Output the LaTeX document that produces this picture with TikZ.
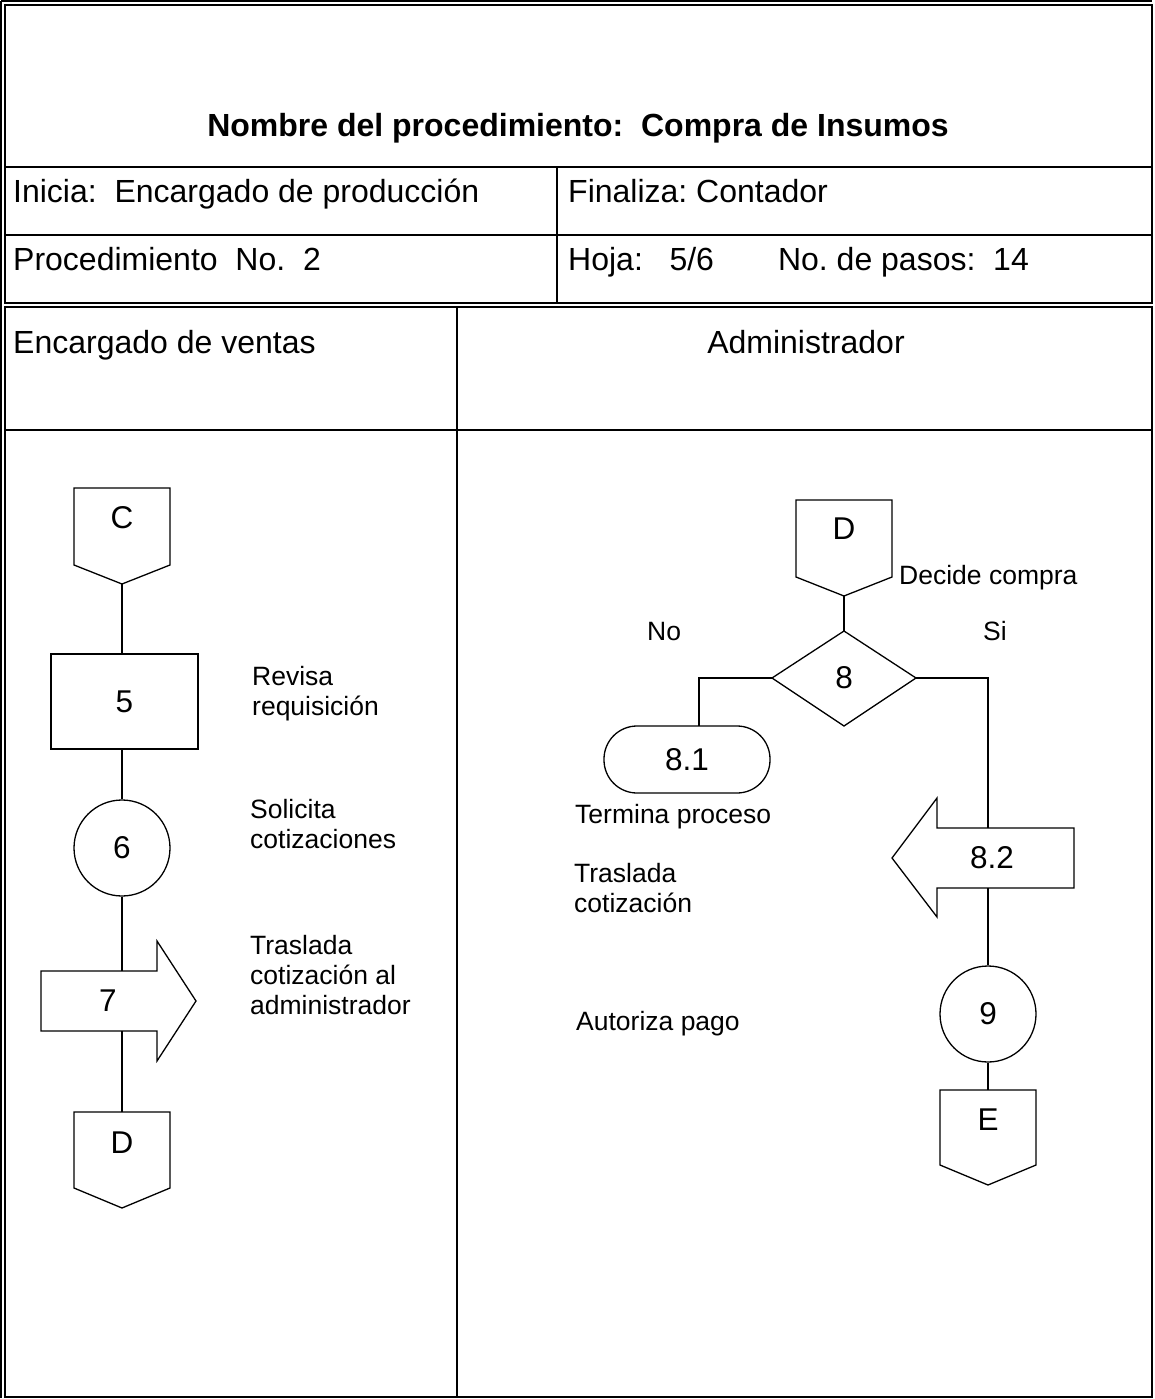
\documentclass[tikz,border=0pt]{standalone}
\usepackage{fontspec}
\setmainfont{Liberation Sans}
\begin{document}
\frenchspacing
\begin{tikzpicture}[x=1pt,y=-1pt,
  frame/.style={line width=1.8pt},
  flow/.style={line width=1.3pt},
  num/.style={font=\fontsize{31.5}{36}\selectfont, inner sep=0},
  hdr/.style={font=\fontsize{32}{36}\selectfont, inner sep=0, anchor=base west},
  ttl/.style={font=\fontsize{32}{36}\selectfont\bfseries, inner sep=0, anchor=base},
  lbl/.style={font=\fontsize{26.5}{30}\selectfont, inner sep=0, anchor=base west, align=left}]
\useasboundingbox (0,0) rectangle (1155,1399);
% table frame
\draw[frame] (5,5) rectangle (1152,303);
\draw[frame] (1,1) -- (1152,1);
\draw[frame] (1,1) -- (1,1398);
\draw[frame] (5,307) rectangle (1152,1397);
\draw[frame] (5,167) -- (1152,167);
\draw[frame] (5,235) -- (1152,235);
\draw[frame] (557,167) -- (557,303);
\draw[frame] (457,307) -- (457,1397);
\draw[frame] (5,430) -- (1152,430);
% header texts
\node[ttl] (title) at (578,137) {Nombre del procedimiento:\ \ Compra de Insumos};
\node[hdr] (inicia) at (13,203) {Inicia:\ \ Encargado de producción};
\node[hdr] (finaliza) at (568,203) {Finaliza: Contador};
\node[hdr] (proc) at (13,270) {Procedimiento\ \ No.\ \ 2};
\node[hdr] (hoja) at (568,270) {Hoja:\ \ \ 5/6\hspace{64pt}No. de pasos:\ \ 14};
\node[hdr] (lane1) at (13,353) {Encargado de ventas};
\node[hdr, anchor=base] (lane2) at (806,353) {Administrador};
% left lane
\draw[flow] (74,488) -- (170,488) -- (170,565) -- (122,584) -- (74,565) -- cycle;
\node[num] (C) at (122,518) {C};
\coordinate (Cb) at (122,584);
\node[flow, draw, num, minimum width=147pt, minimum height=95pt] (n5) at (124.5,701.5) {5};
\node[flow, draw, num, circle, minimum size=96pt] (n6) at (122,848) {6};
\draw[flow] (41,971) -- (157,971) -- (157,941) -- (196,1001) -- (157,1061) -- (157,1031) -- (41,1031) -- cycle;
\node[num] (n7) at (108,1001) {7};
\coordinate (n7t) at (122,971);
\coordinate (n7b) at (122,1031);
\draw[flow] (74,1112) -- (170,1112) -- (170,1188) -- (122,1208) -- (74,1188) -- cycle;
\node[num] (Dl) at (122,1143) {D};
\coordinate (Dlt) at (122,1112);
\draw[flow] (Cb) -- (Cb |- n5.north);
\draw[flow] (n5.south -| n6) -- (n6.north);
\draw[flow] (n6.south) -- (n7t);
\draw[flow] (n7b) -- (Dlt);
\node[lbl] (l5) at (252,715) {Revisa\\requisición};
\node[lbl] (l6) at (250,848) {Solicita\\cotizaciones};
\node[lbl] (l7) at (250,1014) {Traslada\\cotización al\\administrador};
% right lane
\draw[flow] (796,500) -- (892,500) -- (892,577) -- (844,596) -- (796,577) -- cycle;
\node[num] (Dr) at (844,529) {D};
\coordinate (Drb) at (844,596);
\draw[flow] (844,631) -- (916,678) -- (844,726) -- (772,678) -- cycle;
\node[num] (n8) at (844,678) {8};
\coordinate (d8t) at (844,631);
\coordinate (d8l) at (772,678);
\coordinate (d8r) at (916,678);
\draw[flow] (Drb) -- (d8t);
\node[flow, draw, num, rounded corners=33pt, minimum width=166pt, minimum height=67pt] (n81) at (687,759.5) {8.1};
\coordinate (n81in) at (699,726);
\draw[flow] (d8l) -| (n81in);
\draw[flow] (1074,828) -- (937,828) -- (937,798) -- (892,858) -- (937,917) -- (937,888) -- (1074,888) -- cycle;
\node[num] (n82) at (992,858) {8.2};
\coordinate (a82t) at (988,828);
\coordinate (a82b) at (988,888);
\draw[flow] (d8r) -| (a82t);
\node[flow, draw, num, circle, minimum size=96pt] (n9) at (988,1014) {9};
\draw[flow] (a82b) -- (n9.north);
\draw[flow] (940,1090) -- (1036,1090) -- (1036,1165) -- (988,1185) -- (940,1165) -- cycle;
\node[num] (E) at (988,1120) {E};
\coordinate (Et) at (988,1090);
\draw[flow] (n9.south) -- (Et);
\node[lbl] (ldec) at (899,584) {Decide compra};
\node[lbl] (lno) at (647,640) {No};
\node[lbl] (lsi) at (983,640) {Si};
\node[lbl] (lterm) at (575,823) {Termina proceso};
\node[lbl] (ltras) at (574,912) {Traslada\\cotización};
\node[lbl] (laut) at (576,1030) {Autoriza pago};
\end{tikzpicture}
\end{document}
